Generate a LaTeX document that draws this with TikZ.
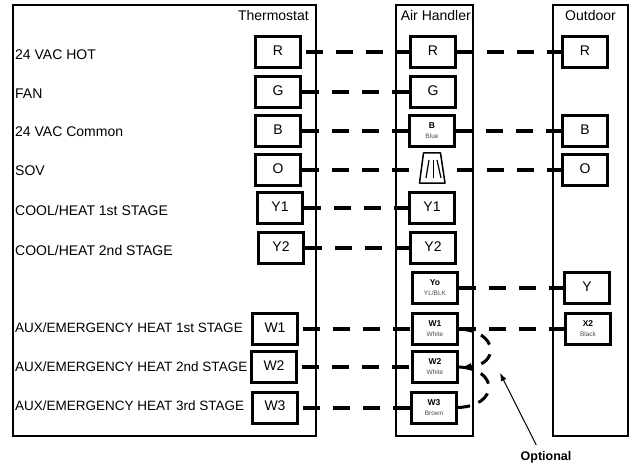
\documentclass[tikz,border=0pt]{standalone}
\usepackage{fontspec}
\setmainfont{Liberation Sans}
\usetikzlibrary{arrows.meta}
\begin{document}
\begin{tikzpicture}[x=1pt,y=-1pt]
	\tikzstyle{panel}=[draw=black,line width=2.5pt,inner sep=0pt]
	\tikzstyle{title}=[font=\fontsize{14}{14}\selectfont,inner sep=0pt,anchor=north east]
	\tikzstyle{terminal}=[draw=black,line width=3pt,fill=white,minimum width=45pt,minimum height=31pt,inner sep=0pt,text depth=3pt,font=\fontsize{14}{14}\selectfont]
	\tikzstyle{small terminal}=[terminal,align=center,text depth=,font=\fontsize{6.5}{10}\selectfont\color{black!70}]
	\tikzstyle{valve}=[minimum width=44pt,minimum height=31pt,inner sep=0pt]
	\tikzstyle{function}=[font=\fontsize{14}{14}\selectfont,inner sep=0pt,anchor=west]
	\tikzstyle{aux function}=[function,font=\fontsize{13.5}{14}\selectfont]
	\tikzstyle{wire}=[line width=4pt,dash pattern=on 17pt off 13pt]
	\tikzstyle{jumper}=[line width=3pt,dash pattern=on 15pt off 8pt on 13pt off 10pt on 13pt off 9pt on 20pt]
	\useasboundingbox (0,0) rectangle (632,468);

	% Paneles
	\node[panel,minimum width=303pt,minimum height=431pt] (thermostat) at (164.5,220.5) {};
	\node[panel,minimum width=77pt,minimum height=431pt] (handler) at (434.5,220.5) {};
	\node[panel,minimum width=75pt,minimum height=431pt] (outdoor) at (590.5,220.5) {};
	\node[title] at (309,10) {Thermostat};
	\node[title] at (471,10) {Air Handler};
	\node[title] at (616,10) {Outdoor};

	% Funciones
	\foreach \name / \y / \txt in {1/55/{24 VAC HOT},2/94/{FAN},3/132/{24 VAC Common},4/171/{SOV},5/210/{COOL/HEAT 1st STAGE},6/250/{COOL/HEAT 2nd STAGE}}
	\node[function] (F-\name) at (15,\y) {\txt};
	\foreach \name / \y / \txt in {7/328/{AUX/EMERGENCY HEAT 1st STAGE},8/367/{AUX/EMERGENCY HEAT 2nd STAGE},9/406/{AUX/EMERGENCY HEAT 3rd STAGE}}
	\node[aux function] (F-\name) at (15,\y) {\txt};

	% Bornes termostato
	\foreach \name / \x / \y in {R/278/52,G/278/92,B/278/131,O/278/170,Y1/280/208,Y2/281/248,W1/275/329,W2/274/367,W3/275/407.5}
	\node[terminal] (T-\name) at (\x,\y) {\name};

	% Bornes air handler
	\foreach \name / \x / \y in {R/433/52,G/433/92,Y1/432/208,Y2/433/248}
	\node[terminal] (A-\name) at (\x,\y) {\name};
	\foreach \name / \x / \y / \txt in {B/432/131/{Blue},Yo/435/288/{YL/BLK},W1/435/329/{White},W2/435/367/{White},W3/434/407.5/{Brown}}
	\node[small terminal] (A-\name) at (\x,\y) {{\bfseries\fontsize{8.5}{9}\selectfont\color{black}\name}\\\txt};

	% Valvula
	\node[valve] (A-O) at (434.5,170) {};
	\draw[line width=1.5pt,line join=round] (A-O.center)+(-11,-17) -- +(6,-17) -- +(10.5,13) -- +(-15,13) -- cycle;
	\draw[line width=1.2pt] (A-O.center)+(-5.5,-10) -- +(-8.5,8);
	\draw[line width=1.2pt] (A-O.center)+(-1,-10) -- +(-1,8);
	\draw[line width=1.2pt] (A-O.center)+(2.5,-10) -- +(6.5,8);

	% Bornes exterior
	\foreach \name / \x / \y in {R/585/52,B/585/131,O/585/170,Y/587/288}
	\node[terminal] (E-\name) at (\x,\y) {\name};
	\node[small terminal] (E-X2) at (588,329) {{\bfseries\fontsize{8.5}{9}\selectfont\color{black}X2}\\Black};

	% Conexiones termostato-air handler
	\foreach \name in {R,W1,W2,W3}
	\draw[wire,shorten <=4pt] (T-\name) -- (A-\name);
	\foreach \name in {G,B,O,Y1,Y2}
	\draw[wire] (T-\name) -- (A-\name);

	% Conexiones air handler-exterior
	\foreach \source / \dest in {R/R,B/B,O/O}
	\draw[wire] (A-\source) -- (E-\dest);
	\draw[wire] (A-Yo) -- (E-Y);
	\draw[wire] (A-W1) -- (E-X2);

	% Puentes opcionales
	\draw[jumper,-{Latex[length=8pt,width=7pt]},shorten >=4pt] (A-W1.east) .. controls (499,331) and (499,365) .. (A-W2.east);
	\draw[jumper] (A-W2.east) .. controls (499,369) and (499,406) .. (A-W3.east);

	% Nota
	\node[font=\bfseries\fontsize{12.5}{12.5}\selectfont,inner sep=2pt] (optional) at (546,457.5) {Optional};
	\coordinate (optional-tip) at (500,373);
	\draw[line width=1pt,-{Latex[length=8pt,width=6pt]},shorten <=5pt] (optional.133) -- (optional-tip);
\end{tikzpicture}
\end{document}
